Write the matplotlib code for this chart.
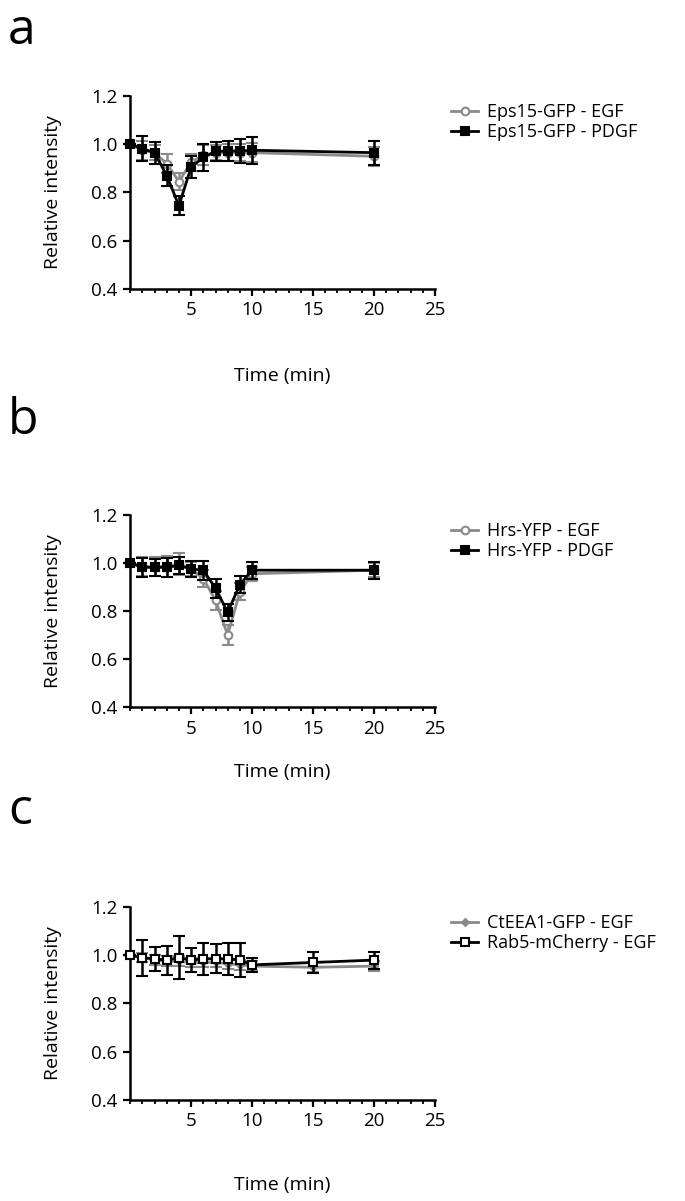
import numpy as np
import matplotlib
matplotlib.use("Agg")
import matplotlib.pyplot as plt
from matplotlib.ticker import MultipleLocator

plt.rcParams['font.family'] = ['Open Sans', 'DejaVu Sans']

# panel a: Eps15-GFP
t_a = [0, 1, 2, 3, 4, 5, 6, 7, 8, 9, 10, 20]
eps_egf = [1.0, 0.975, 0.965, 0.92, 0.845, 0.925, 0.955, 0.965, 0.965, 0.965, 0.965, 0.95]
eps_egf_err = [0.0, 0.04, 0.03, 0.04, 0.035, 0.035, 0.04, 0.03, 0.035, 0.035, 0.04, 0.04]
eps_pdgf = [1.0, 0.982, 0.965, 0.87, 0.745, 0.905, 0.945, 0.97, 0.972, 0.972, 0.975, 0.965]
eps_pdgf_err = [0.0, 0.05, 0.045, 0.045, 0.04, 0.045, 0.055, 0.04, 0.04, 0.048, 0.055, 0.05]

# panel b: Hrs-YFP
t_b = [0, 1, 2, 3, 4, 5, 6, 7, 8, 9, 10, 20]
hrs_egf = [1.0, 0.985, 0.985, 0.985, 0.995, 0.975, 0.935, 0.845, 0.70, 0.88, 0.955, 0.97]
hrs_egf_err = [0.0, 0.04, 0.04, 0.045, 0.045, 0.03, 0.035, 0.04, 0.04, 0.035, 0.03, 0.03]
hrs_pdgf = [1.0, 0.982, 0.982, 0.982, 0.99, 0.975, 0.97, 0.895, 0.795, 0.91, 0.97, 0.97]
hrs_pdgf_err = [0.0, 0.04, 0.035, 0.04, 0.035, 0.035, 0.04, 0.04, 0.035, 0.035, 0.035, 0.035]

# panel c: CtEEA1-GFP / Rab5-mCherry
t_c = [0, 1, 2, 3, 4, 5, 6, 7, 8, 9, 10, 15, 20]
eea_egf = [1.0, 0.99, 0.98, 0.975, 0.975, 0.97, 0.97, 0.97, 0.965, 0.96, 0.955, 0.95, 0.955]
eea_egf_err = [0.0, 0.02, 0.02, 0.02, 0.02, 0.02, 0.02, 0.02, 0.02, 0.02, 0.02, 0.02, 0.02]
rab_egf = [1.0, 0.99, 0.985, 0.98, 0.99, 0.98, 0.985, 0.985, 0.985, 0.98, 0.96, 0.97, 0.98]
rab_egf_err = [0.0, 0.075, 0.05, 0.06, 0.09, 0.05, 0.065, 0.06, 0.065, 0.07, 0.03, 0.045, 0.035]

GRAY = '#8a8a8a'

fig = plt.figure(figsize=(6.85, 12.01), dpi=100)


def style_axis(ax, labelpad):
    ax.set_xlim(0, 25)
    ax.set_ylim(0.4, 1.2)
    ax.spines['top'].set_visible(False)
    ax.spines['right'].set_visible(False)
    for s in ('left', 'bottom'):
        ax.spines[s].set_linewidth(1.8)
    ax.set_xticks([5, 10, 15, 20, 25])
    ax.xaxis.set_minor_locator(MultipleLocator(1))
    ax.set_yticks([0.4, 0.6, 0.8, 1.0, 1.2])
    ax.set_yticklabels(['0.4', '0.6', '0.8', '1.0', '1.2'])
    ax.tick_params(which='major', length=5, width=1.6, labelsize=13.5, pad=4)
    ax.tick_params(axis='x', which='minor', length=3, width=1.3)
    ax.set_xlabel('Time (min)', fontsize=14, labelpad=labelpad)
    ax.set_ylabel('Relative intensity', fontsize=14)
    ax.yaxis.set_label_coords(-0.225, 0.5)


def series(ax, t, y, err, color, marker, mfc, label, ms=5.5, lw=2.0, z=2):
    ax.errorbar(t, y, yerr=err, color=color, marker=marker, mfc=mfc, mec=color,
                ms=ms, mew=1.5, lw=lw, elinewidth=1.8, capsize=4, capthick=1.8,
                label=label, zorder=z, clip_on=False)


# a
ax_a = fig.add_axes([0.19, 0.7594, 0.445, 0.1607])
series(ax_a, t_a, eps_egf, eps_egf_err, GRAY, 'o', 'white', 'Eps15-GFP - EGF', z=2)
series(ax_a, t_a, eps_pdgf, eps_pdgf_err, 'black', 's', 'black', 'Eps15-GFP - PDGF', z=3)
style_axis(ax_a, 34)

# b
ax_b = fig.add_axes([0.19, 0.4113, 0.445, 0.1599])
series(ax_b, t_b, hrs_egf, hrs_egf_err, GRAY, 'o', 'white', 'Hrs-YFP - EGF', z=2)
series(ax_b, t_b, hrs_pdgf, hrs_pdgf_err, 'black', 's', 'black', 'Hrs-YFP - PDGF', z=3)
style_axis(ax_b, 18)

# c
ax_c = fig.add_axes([0.19, 0.0841, 0.445, 0.1607])
series(ax_c, t_c, eea_egf, eea_egf_err, GRAY, 'D', GRAY, 'CtEEA1-GFP - EGF', ms=3.5, z=2)
series(ax_c, t_c, rab_egf, rab_egf_err, 'black', 's', 'white', 'Rab5-mCherry - EGF', ms=5.5, z=3)
style_axis(ax_c, 33)

for ax in (ax_a, ax_b, ax_c):
    h, l = ax.get_legend_handles_labels()
    h = [hh[0] for hh in h]
    ax.legend(h, l, loc='upper left', bbox_to_anchor=(1.03, 1.0), frameon=False,
              fontsize=13, handlelength=1.5, handletextpad=0.5, labelspacing=0.1,
              borderaxespad=0)

for letter, y in (('a', 0.995), ('b', 0.67), ('c', 0.345)):
    fig.text(0.012, y, letter, fontsize=36, va='top', ha='left')

fig.savefig('out.png', dpi=100)
